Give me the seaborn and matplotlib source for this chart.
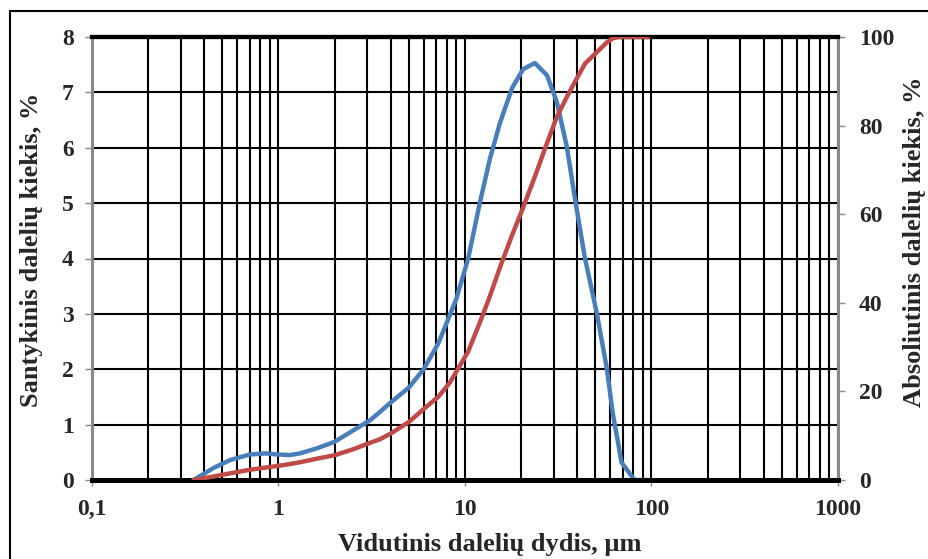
import numpy as np
import pandas as pd
import matplotlib
matplotlib.use("Agg")
import matplotlib.pyplot as plt
import seaborn as sns
from matplotlib.ticker import FixedLocator, LogLocator, NullFormatter, FixedFormatter
from matplotlib.patches import Rectangle

# ---- data ----
sizes = [0.35, 0.45, 0.55, 0.7, 0.85, 1.0, 1.15, 1.3, 1.6, 2.0, 2.5, 3.1, 3.5, 4.0, 5.0,
         6.0, 7.2, 8.3, 9.0, 10.4, 12.0, 13.6, 15.4, 17.9, 20.5, 23.7, 27.5, 31.1,
         35.2, 39.0, 44.0, 51.0, 57.7, 62.0, 66.0, 69.0, 81.0, 95.7]
relative = [0.0, 0.22, 0.36, 0.46, 0.48, 0.46, 0.45, 0.48, 0.57, 0.69, 0.89, 1.08, 1.23, 1.40, 1.67,
            2.00, 2.47, 2.98, 3.28, 4.00, 5.00, 5.80, 6.45, 7.08, 7.42, 7.53, 7.31, 6.82,
            6.01, 5.05, 4.00, 3.00, 2.00, 1.20, 0.70, 0.32, 0.0, 0.0]
cumulative = [0.0, 0.8, 1.5, 2.3, 2.8, 3.2, 3.6, 4.0, 4.8, 5.6, 6.9, 8.4, 9.2, 10.5, 13.1,
              16.0, 18.8, 22.0, 24.5, 29.0, 35.5, 41.5, 48.0, 55.3, 61.5, 68.5, 76.0, 82.0,
              86.5, 90.0, 94.0, 96.6, 98.8, 99.7, 100.0, 100.0, 100.0, 100.0]

x_tick_values = [0.1, 1, 10, 100, 1000]
x_tick_labels = ["0,1", "1", "10", "100", "1000"]
left_ticks = [0, 1, 2, 3, 4, 5, 6, 7, 8]
right_ticks = [0, 20, 40, 60, 80, 100]

x_label = "Vidutinis dalelių dydis, µm"
left_label = "Santykinis dalelių kiekis, %"
right_label = "Absoliutinis dalelių kiekis, %"

blue = "#4A7EBB"
red = "#BE4B48"

sns.set_theme(style="white")
plt.rcParams['font.family'] = ['Liberation Serif', 'DejaVu Serif']
plt.rcParams['font.weight'] = 'bold'

W, H = 929, 559
fig = plt.figure(figsize=(W / 100, H / 100), dpi=100)
fig.patch.set_facecolor("white")
L, R, T, B = 92, 838, 37, 480
ax = fig.add_axes([L / W, 1 - B / H, (R - L) / W, (B - T) / H])
ax.set_facecolor("white")
ax2 = ax.twinx()

df = pd.DataFrame({"size": sizes, "relative": relative, "cumulative": cumulative})

ax.set_xscale("log")
sns.lineplot(data=df, x="size", y="relative", ax=ax, color=blue, lw=3.2, sort=False, zorder=3)
sns.lineplot(data=df, x="size", y="cumulative", ax=ax2, color=red, lw=3.2, sort=False, zorder=3)

ax.set_xlim(0.1, 1000)
ax.set_ylim(0, 8)
ax2.set_ylim(0, 100)

ax.xaxis.set_major_locator(FixedLocator(x_tick_values))
ax.xaxis.set_major_formatter(FixedFormatter(x_tick_labels))
ax.xaxis.set_minor_locator(LogLocator(base=10, subs=range(2, 10)))
ax.xaxis.set_minor_formatter(NullFormatter())
ax.set_yticks(left_ticks)
ax2.set_yticks(right_ticks)

ax.grid(which="both", axis="x", color="black", lw=1.5)
ax.grid(which="major", axis="y", color="black", lw=1.5)
ax.set_axisbelow(True)
ax2.grid(False)

fs = 17
ax.tick_params(axis="x", which="major", direction="out", length=4, width=1, color="#888888",
               pad=10, labelsize=fs, bottom=True)
ax.tick_params(axis="x", which="minor", length=0)
ax.tick_params(axis="y", direction="out", length=5, width=1, color="#888888", pad=8,
               labelsize=fs, left=True)
ax2.tick_params(axis="y", direction="out", length=5, width=1, color="#888888", pad=10,
                labelsize=fs, right=True)
for lab in ax.get_xticklabels() + ax.get_yticklabels() + ax2.get_yticklabels():
    lab.set_fontweight("bold")

for a in (ax, ax2):
    a.spines["left"].set_color("#888888")
    a.spines["left"].set_linewidth(2)
    a.spines["right"].set_color("#888888")
    a.spines["right"].set_linewidth(2)
    a.spines["top"].set_color("black")
    a.spines["top"].set_linewidth(3)
    a.spines["bottom"].set_color("black")
    a.spines["bottom"].set_linewidth(3.5)

lfs = 19
ax.set_xlabel(x_label, fontsize=lfs, fontweight="bold", va="center")
ax.xaxis.set_label_coords((490 - L) / (R - L), (B - 545) / (B - T))
ax.set_ylabel(left_label, fontsize=lfs, fontweight="bold", va="center")
ax.yaxis.set_label_coords((32 - L) / (R - L), (B - 250) / (B - T))
ax2.set_ylabel(right_label, fontsize=lfs, fontweight="bold", va="center")
ax2.yaxis.set_label_coords((915 - L) / (R - L), (B - 242) / (B - T))

if ax.get_legend():
    ax.get_legend().remove()
if ax2.get_legend():
    ax2.get_legend().remove()

fig.patches.append(Rectangle((10 / W, -0.05), 1.2, (H - 11) / H + 0.05,
                             transform=fig.transFigure, fill=False, ec="black", lw=1.5))

fig.savefig("out.png", dpi=100, facecolor="white")
